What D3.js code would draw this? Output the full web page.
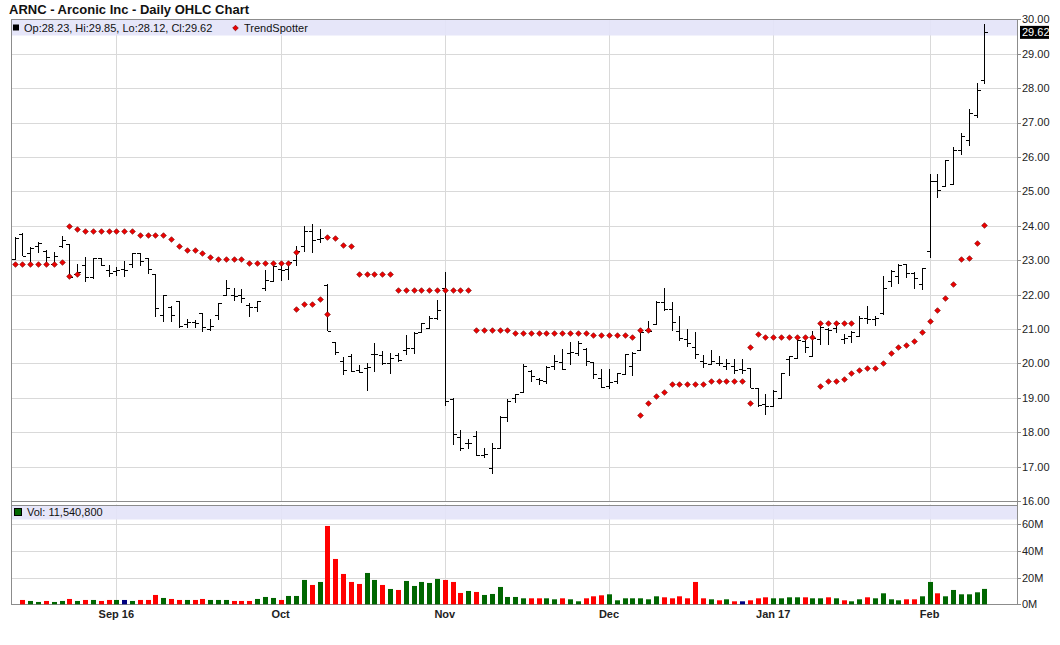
<!DOCTYPE html>
<html><head><meta charset="utf-8">
<script src="https://cdn.jsdelivr.net/npm/d3@7"></script>
<style>body{margin:0;background:#fff;} svg{display:block;font-family:"Liberation Sans",Arial,sans-serif;}</style>
</head><body><svg id="c" width="1060" height="645"></svg>
<script>
// ---------- DATA ----------
const startDate = "2016-08-15", endDate = "2017-02-10";
const holidays = ["2016-09-05","2016-11-24","2016-12-26","2017-01-02","2017-01-16"];
const monthLabels = ["Sep 16","Oct","Nov","Dec","Jan 17","Feb"];
const priceTicks = [16,17,18,19,20,21,22,23,24,25,26,27,28,29,30];
const volumeTicks = [0,20,40,60];

const open  = [23.03,23.77,23.2,23.4,23.27,22.9,23.42,23.48,22.6,22.86,22.5,23.06,22.7,22.68,22.75,22.9,23.2,23.06,22.6,21.4,
21.65,21.8,21.15,21.2,21.45,21.0,21.4,22.0,22.0,21.98,21.7,21.65,22.2,22.38,22.75,22.74,23.0,23.4,23.85,23.62,
22.29,20.63,20.06,20.2,19.8,19.87,20.27,20.23,20.0,20.25,20.4,20.45,20.9,21.03,21.32,22.2,18.95,17.85,17.7,17.9,
17.34,16.97,17.55,18.45,18.98,19.17,19.78,19.56,19.49,19.92,20.04,20.3,20.3,20.42,20.05,19.58,19.35,19.5,19.7,19.92,
20.4,20.98,21.15,21.77,21.57,20.95,20.72,20.48,20.07,19.98,20.02,19.92,19.92,19.83,19.88,19.29,18.82,18.77,19.0,20.12,
20.17,20.65,20.22,20.72,21.0,21.03,20.72,20.8,20.79,21.32,21.3,21.47,22.39,22.55,22.88,22.63,22.3,23.28,25.3,25.15,
25.22,26.2,26.48,27.23,28.23];
const high  = [23.67,23.79,23.38,23.53,23.3,23.25,23.7,23.48,22.9,23.1,23.06,23.06,22.85,22.8,22.97,23.2,23.2,23.06,22.6,22.0,
21.68,21.8,21.3,21.27,21.45,21.3,21.75,22.41,22.2,22.15,21.76,21.8,22.72,22.92,22.92,22.97,23.4,24.0,24.05,23.9,
22.3,20.63,20.19,20.27,19.94,20.0,20.58,20.36,20.29,20.29,20.82,20.9,21.18,21.37,21.85,22.65,18.98,18.06,17.8,18.04,
17.55,17.7,18.47,18.96,19.12,19.97,19.81,19.58,19.92,20.23,20.42,20.62,20.65,20.45,20.05,19.85,19.83,19.73,20.26,20.33,
20.94,21.22,21.81,22.2,21.77,21.38,21.01,20.9,20.24,20.38,20.2,20.14,20.14,20.14,19.88,19.29,19.1,19.23,19.72,20.2,
20.8,20.68,20.94,21.09,21.04,21.23,20.86,20.94,21.37,21.66,21.37,22.54,22.7,22.88,22.9,22.66,22.78,25.49,25.49,25.91,
26.3,26.7,27.4,28.14,29.85];
const low   = [23.0,23.11,22.96,23.2,22.96,22.88,23.35,22.5,22.5,22.37,22.45,22.83,22.5,22.55,22.5,22.77,22.84,22.6,21.35,21.2,
21.2,21.03,21.03,21.03,20.9,20.93,21.25,21.95,21.8,21.75,21.35,21.5,22.1,22.36,22.38,22.43,22.82,23.25,23.2,23.5,
20.94,20.24,19.66,19.75,19.71,19.2,19.76,19.95,19.7,20.05,20.23,20.28,20.88,21.03,21.25,18.75,17.62,17.44,17.52,17.3,
17.26,16.78,17.55,18.3,18.84,19.17,19.46,19.36,19.39,19.81,19.81,19.94,20.21,19.92,19.54,19.27,19.25,19.4,19.67,19.63,
20.36,20.9,21.13,21.53,20.93,20.65,20.49,20.14,19.86,19.96,19.91,19.81,19.69,19.69,19.27,18.72,18.5,18.72,19.0,19.64,
20.17,20.31,20.2,20.53,20.53,20.89,20.57,20.6,20.79,21.15,21.08,21.42,22.22,22.31,22.49,22.15,22.12,23.07,24.81,25.15,
25.2,26.05,26.32,27.14,28.12];
const close = [23.65,23.11,23.35,23.5,23.09,23.12,23.6,22.52,22.65,22.5,23.06,22.86,22.62,22.7,22.7,23.2,22.97,22.74,21.6,22.0,
21.4,21.1,21.2,21.17,21.05,21.1,21.75,22.2,21.95,21.9,21.65,21.8,22.43,22.84,22.72,22.95,23.26,23.85,23.6,23.65,
20.95,20.33,19.82,19.78,19.75,19.9,20.28,20.0,20.15,20.1,20.45,20.87,21.16,21.33,21.55,18.9,17.96,17.53,17.7,17.33,
17.38,17.55,18.45,18.91,19.1,19.92,19.63,19.52,19.9,20.08,19.83,20.32,20.6,20.06,19.68,19.3,19.46,19.72,20.26,20.3,
20.92,20.95,21.78,21.57,21.19,20.73,20.59,20.26,20.02,20.06,20.0,20.02,19.8,19.8,19.29,18.8,18.77,19.2,19.72,20.2,
20.68,20.49,20.75,21.05,20.98,21.18,20.74,20.92,21.33,21.29,21.31,22.18,22.68,22.86,22.63,22.49,22.78,25.3,25.05,25.91,
26.2,26.6,27.28,27.94,29.62];
// volume in millions (first session has no volume bar)
const volumeM = [null,3.25,2.5,1.75,2.5,1.75,2.5,4,2.5,3.25,3.25,2.5,3.25,3.25,3.25,2.5,3.25,3.25,7,4.75,
4,3.25,3.25,3.25,4,3.25,3.25,3.25,2.5,2.5,2.5,4,5.5,4.75,3.25,6.25,6.25,18.25,14.5,16.75,
58.75,34,22.75,16.75,15.25,23.5,18.25,14.5,11.5,10.75,17.5,13.75,16.75,16,19,18.25,16.75,8.5,10,9.25,
7,7.75,13,5.5,5.5,4.5,4.5,4.5,4.5,3.75,4.5,3.75,2.25,4.5,6,6.75,7.5,3,4.5,4.5,
4.5,3.75,6,5.25,4.5,6,4.5,16.75,4.5,3.75,3,3.75,2.25,2.25,3,4.5,5.25,4.5,4.5,5.25,
5.25,5.25,4.5,4.5,5.25,4.5,3,2.25,3.75,5.25,4.5,8.25,3.75,3,3.75,3.75,6,16.75,8.25,6,
10.75,7.5,7.5,9,11.5408];
const N = null;
const trendAbove = [N,N,N,N,N,N,N,24.0,23.91,23.86,23.86,23.86,23.86,23.86,23.86,23.86,23.74,23.74,23.74,23.74,
23.61,23.41,23.29,23.29,23.21,23.09,23.03,23.03,23.03,23.03,22.92,22.92,22.92,22.92,22.92,22.92,23.24,N,N,N,
23.67,23.64,23.44,23.41,22.61,22.61,22.61,22.61,22.61,22.14,22.14,22.14,22.14,22.14,22.14,22.14,22.14,22.14,22.14,20.98,
20.98,20.98,20.98,20.98,20.89,20.89,20.89,20.89,20.89,20.89,20.89,20.89,20.89,20.89,20.83,20.83,20.83,20.83,20.83,20.77,
20.96,20.96,N,N,N,N,N,N,N,N,N,N,N,N,20.49,20.84,20.78,20.78,20.78,20.78,
20.78,20.78,20.78,21.16,21.16,21.16,21.16,21.16,N,N,N,N,N,N,N,N,N,N,N,N,
N,N,N,N,N];
const trendBelow = [22.88,22.88,22.88,22.88,22.88,22.88,22.94,22.53,22.6,N,N,N,N,N,N,N,N,N,N,N,
N,N,N,N,N,N,N,N,N,N,N,N,N,N,N,N,21.58,21.74,21.74,21.86,
21.43,N,N,N,N,N,N,N,N,N,N,N,N,N,N,N,N,N,N,N,
N,N,N,N,N,N,N,N,N,N,N,N,N,N,N,N,N,N,N,N,
18.51,18.86,19.04,19.16,19.39,19.39,19.39,19.39,19.39,19.48,19.48,19.48,19.48,19.48,18.86,N,N,N,N,N,
N,N,N,19.33,19.49,19.49,19.56,19.73,19.81,19.88,19.88,20.02,20.29,20.48,20.53,20.65,20.91,21.24,21.55,21.91,
22.31,23.04,23.07,23.51,24.03];

// ---------- BUILD ----------
const parse = d3.timeParse("%Y-%m-%d"), fmtDay = d3.timeFormat("%Y-%m-%d");
const hol = new Set(holidays);
const dates = d3.timeDay.range(parse(startDate), d3.timeDay.offset(parse(endDate), 1))
  .filter(d => d.getDay() !== 0 && d.getDay() !== 6 && !hol.has(fmtDay(d)));
const bars = dates.map((d, i) => ({i, d, o: open[i], h: high[i], l: low[i], c: close[i], v: volumeM[i],
  up: trendAbove[i], dn: trendBelow[i]}));
const monthStarts = bars.filter((b, i) => i > 0 && b.d.getMonth() !== bars[i - 1].d.getMonth());

const W = 1060, H = 645;
const L = 11, R = 1017;
const pTop = 19.3, pBot = 501, pBand = 35;
const vTop = 504.5, vBand = 519, vBot = 604.3;

const x = d3.scaleLinear().domain([-0.47, 128.17]).range([L, R]);
const y = d3.scaleLinear().domain([16, 30]).range([pBot, pTop]);
const yv = d3.scaleLinear().domain([0, 60]).range([vBot, 524.3]);

const svg = d3.select("#c");
const px = v => Math.round(v) + 0.5;
const grid = "#d9d9d9", frame = "#8c8c8c";

// title
svg.append("text").attr("x", 9).attr("y", 14).attr("font-size", 13).attr("font-weight", "bold")
  .attr("fill", "#111").text("ARNC - Arconic Inc - Daily OHLC Chart");

// horizontal grid price
svg.append("g").selectAll("line").data(priceTicks.filter(t => t > 16 && t < 30)).join("line")
  .attr("x1", L).attr("x2", R).attr("y1", d => px(y(d))).attr("y2", d => px(y(d)))
  .attr("stroke", grid);
// horizontal grid volume
svg.append("g").selectAll("line").data(volumeTicks.filter(t => t > 0)).join("line")
  .attr("x1", L).attr("x2", R).attr("y1", d => px(yv(d))).attr("y2", d => px(yv(d)))
  .attr("stroke", grid);
// vertical grid
svg.append("g").selectAll("line").data(monthStarts).join("line")
  .attr("x1", d => px(x(d.i))).attr("x2", d => px(x(d.i))).attr("y1", pTop).attr("y2", pBot)
  .attr("stroke", grid);
svg.append("g").selectAll("line").data(monthStarts).join("line")
  .attr("x1", d => px(x(d.i))).attr("x2", d => px(x(d.i))).attr("y1", vTop).attr("y2", vBot)
  .attr("stroke", grid);

// header bands
svg.append("rect").attr("x", L + 0.5).attr("y", Math.round(pTop) + 0.5).attr("width", R - L - 0.5)
  .attr("height", pBand - Math.round(pTop)).attr("fill", "#e4e4f9").attr("opacity", 0.92);
svg.append("rect").attr("x", L + 0.5).attr("y", Math.round(vTop) + 0.5).attr("width", R - L - 0.5)
  .attr("height", vBand - Math.round(vTop)).attr("fill", "#e4e4f9").attr("opacity", 0.92);

// frames
const fr = svg.append("g").attr("stroke", frame).attr("fill", "none");
fr.append("line").attr("x1", px(L)).attr("x2", px(L)).attr("y1", px(pTop)).attr("y2", px(vBot));
fr.append("line").attr("x1", px(R)).attr("x2", px(R)).attr("y1", px(pTop)).attr("y2", px(vBot));
fr.append("line").attr("x1", L).attr("x2", R).attr("y1", px(pTop)).attr("y2", px(pTop));
fr.append("line").attr("x1", L).attr("x2", R).attr("y1", px(pBot)).attr("y2", px(pBot));
fr.append("line").attr("x1", L).attr("x2", R).attr("y1", px(vTop)).attr("y2", px(vTop));
fr.append("line").attr("x1", L).attr("x2", R).attr("y1", px(vBot)).attr("y2", px(vBot));

// right price axis
const ra = svg.append("g").attr("font-size", 11).attr("fill", "#222");
priceTicks.forEach(t => {
  ra.append("line").attr("x1", R).attr("x2", R + 4).attr("y1", px(y(t))).attr("y2", px(y(t))).attr("stroke", frame);
  ra.append("text").attr("x", R + 5).attr("y", y(t)).attr("dy", "0.36em").text(d3.format(".2f")(t));
});
volumeTicks.forEach(t => {
  ra.append("line").attr("x1", R).attr("x2", R + 4).attr("y1", px(yv(t))).attr("y2", px(yv(t))).attr("stroke", frame);
  ra.append("text").attr("x", R + 5).attr("y", yv(t)).attr("dy", "0.36em").text(t + "M");
});

// month labels
svg.append("g").selectAll("text").data(monthStarts).join("text")
  .attr("x", d => x(d.i)).attr("y", 618).attr("text-anchor", "middle")
  .attr("font-size", 11).attr("font-weight", "bold").attr("fill", "#222")
  .text((d, k) => monthLabels[k]);

// volume bars
const volColor = b => b.i === 0 ? "#006600" : (b.c > close[b.i - 1] ? "#006600" : (b.c < close[b.i - 1] ? "#ff0000" : "#000080"));
svg.append("g").selectAll("rect").data(bars.filter(b => b.v != null)).join("rect")
  .attr("x", b => Math.round(x(b.i)) - 2).attr("width", 5)
  .attr("y", b => yv(b.v)).attr("height", b => vBot - yv(b.v))
  .attr("fill", volColor);

// OHLC bars
const ohlc = svg.append("g").attr("stroke", "#000").attr("stroke-width", 1).attr("shape-rendering", "crispEdges");
bars.forEach(b => {
  const cx = px(x(b.i));
  ohlc.append("line").attr("x1", cx).attr("x2", cx).attr("y1", y(b.h)).attr("y2", y(b.l));
  ohlc.append("line").attr("x1", cx - 3.5).attr("x2", cx).attr("y1", px(y(b.o))).attr("y2", px(y(b.o)));
  ohlc.append("line").attr("x1", cx).attr("x2", cx + 3.5).attr("y1", px(y(b.c))).attr("y2", px(y(b.c)));
});

// TrendSpotter dots
const diamond = d3.symbol().type(d3.symbolDiamond2 || d3.symbolSquare).size(20);
const dots = [];
bars.forEach(b => { if (b.up != null) dots.push({i: b.i, v: b.up}); if (b.dn != null) dots.push({i: b.i, v: b.dn}); });
svg.append("g").selectAll("path").data(dots).join("path")
  .attr("d", diamond)
  .attr("transform", d => `translate(${px(x(d.i))},${px(y(d.v))})` + (d3.symbolDiamond2 ? "" : " rotate(45)"))
  .attr("fill", "#ee0000").attr("stroke", "#7a0000").attr("stroke-width", 0.7);

// legends
const last = bars[bars.length - 1];
const f2 = d3.format(".2f");
svg.append("rect").attr("x", 13).attr("y", 24.5).attr("width", 6).attr("height", 6).attr("fill", "#000");
svg.append("text").attr("x", 24).attr("y", 31.5).attr("font-size", 11).attr("fill", "#111")
  .text(`Op:${f2(last.o)}, Hi:${f2(last.h)}, Lo:${f2(last.l)}, Cl:${f2(last.c)}`);
svg.append("path").attr("d", diamond).attr("transform", "translate(235.5,28)" + (d3.symbolDiamond2 ? "" : " rotate(45)"))
  .attr("fill", "#ee0000").attr("stroke", "#7a0000").attr("stroke-width", 0.7);
svg.append("text").attr("x", 244).attr("y", 31.5).attr("font-size", 11).attr("fill", "#111").text("TrendSpotter");

svg.append("rect").attr("x", 14.5).attr("y", 508.5).attr("width", 7).attr("height", 7).attr("fill", "#006600").attr("stroke", "#000");
svg.append("text").attr("x", 27).attr("y", 516).attr("font-size", 11).attr("fill", "#111")
  .text("Vol: " + d3.format(",")(Math.round(last.v * 1e6)));

// last price marker
const ly = y(last.c);
svg.append("rect").attr("x", R + 3).attr("y", ly - 6.5).attr("width", 29).attr("height", 13).attr("fill", "#000");
svg.append("text").attr("x", R + 5).attr("y", ly).attr("dy", "0.36em").attr("font-size", 11)
  .attr("fill", "#fff").text(f2(last.c));
</script></body></html>
